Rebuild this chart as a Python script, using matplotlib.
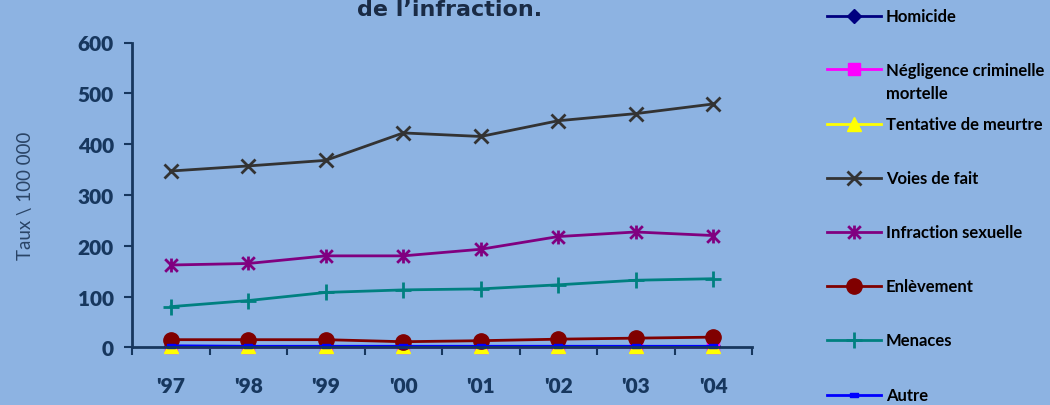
import matplotlib.pyplot as plt
from matplotlib.lines import Line2D
from matplotlib.path import Path

# taux pour 100 000 habitants
years = ["'97", "'98", "'99", "'00", "'01", "'02", "'03", "'04"]
homicide = [2, 2, 2, 2, 2, 2, 2, 2]
negligence = [1, 1, 1, 1, 1, 1, 1, 1]
tentative = [2, 2, 2, 2, 2, 2, 2, 2]
voies_de_fait = [347, 357, 368, 422, 415, 446, 460, 479]
infraction_sexuelle = [162, 165, 180, 180, 193, 218, 227, 220]
enlevement = [15, 15, 15, 11, 13, 16, 18, 20]
menaces = [80, 92, 108, 113, 115, 123, 132, 135]
autre = [3, 2, 2, 2, 2, 2, 2, 2]

labels = ["Homicide", "Négligence criminelle\nmortelle", "Tentative de meurtre",
          "Voies de fait", "Infraction sexuelle", "Enlèvement", "Menaces", "Autre"]

BG = "#8DB3E2"
AXC = "#17375E"

asterisk = Path([(-1, -1), (1, 1), (-1, 1), (1, -1), (0, -1.1), (0, 1.1)],
                [Path.MOVETO, Path.LINETO] * 3)
dash = Path([(-1, -0.6), (1, -0.6), (1, 0.6), (-1, 0.6), (-1, -0.6)],
            [Path.MOVETO, Path.LINETO, Path.LINETO, Path.LINETO, Path.CLOSEPOLY])

styles = [
    dict(color="#000080", marker="D", ms=7, mew=1),
    dict(color="#FF00FF", marker="s", ms=8, mew=1),
    dict(color="#FFFF00", marker="^", ms=10, mew=1),
    dict(color="#333333", marker="x", ms=10, mew=2),
    dict(color="#800080", marker=asterisk, ms=10, mew=2),
    dict(color="#800000", marker="o", ms=11, mew=1),
    dict(color="#008080", marker="+", ms=11, mew=2),
    dict(color="#0000FF", marker=dash, ms=5.5, mew=1),
]
series = [homicide, negligence, tentative, voies_de_fait,
          infraction_sexuelle, enlevement, menaces, autre]

fig = plt.figure(figsize=(10.5, 4.06), dpi=100, facecolor=BG)
ax = fig.add_axes([132 / 1050, 1 - 348.3 / 406, 620 / 1050, 304.8 / 406])
ax.set_facecolor(BG)

x = list(range(len(years)))
for vals, st in zip(series, styles):
    ax.plot(x, vals, color=st["color"], lw=2, marker=st["marker"],
            markersize=st["ms"], markeredgewidth=st["mew"],
            markerfacecolor=st["color"], markeredgecolor=st["color"],
            clip_on=False)

ax.set_xlim(-0.5, 7.5)
ax.set_ylim(0, 600)
ax.set_yticks([0, 100, 200, 300, 400, 500, 600])
ax.set_xticks(x)
ax.set_xticklabels(years)
ax.set_xticks([i - 0.5 for i in range(9)], minor=True)
ax.tick_params(axis="x", which="major", length=0, pad=21)
ax.tick_params(axis="x", which="minor", length=6, width=1.5, color=AXC, direction="out")
ax.tick_params(axis="y", length=6, width=1.5, color=AXC, direction="out", pad=7)
for lab in ax.get_xticklabels() + ax.get_yticklabels():
    lab.set_fontfamily("Lato")
    lab.set_fontweight("heavy")
    lab.set_fontsize(15)
    lab.set_color(AXC)

for side in ["top", "right"]:
    ax.spines[side].set_visible(False)
for side in ["left", "bottom"]:
    ax.spines[side].set_color(AXC)
    ax.spines[side].set_linewidth(2)

ax.set_ylabel("Taux \\ 100 000", family="Lato", fontsize=13.5, color="#2A4466")
ax.yaxis.set_label_coords(-0.158, 0.5)

fig.text(450 / 1050, 1 - 16 / 406, "de l\u2019infraction.", ha="center", va="baseline",
         family="DejaVu Sans", fontweight="bold", fontsize=16, color="#1A2B45")

# légende à droite
rows = [17, 70, 125, 179, 233, 287, 341, 396]
for lab, st, yy in zip(labels, styles, rows):
    yf = 1 - yy / 406
    fig.add_artist(Line2D([827 / 1050, 881 / 1050], [yf, yf], color=st["color"], lw=2,
                          transform=fig.transFigure))
    fig.add_artist(Line2D([854 / 1050], [yf], marker=st["marker"], markersize=st["ms"],
                          markeredgewidth=st["mew"], color=st["color"],
                          markerfacecolor=st["color"], transform=fig.transFigure))
    ty = 1 - (yy + 12.5) / 406 if "\n" in lab else yf
    fig.text(886 / 1050, ty, lab, ha="left", va="center",
             family="Lato", fontweight="bold", fontsize=12, color="black",
             linespacing=1.5, transform=fig.transFigure)

fig.savefig("out.png", dpi=100, facecolor=BG)
